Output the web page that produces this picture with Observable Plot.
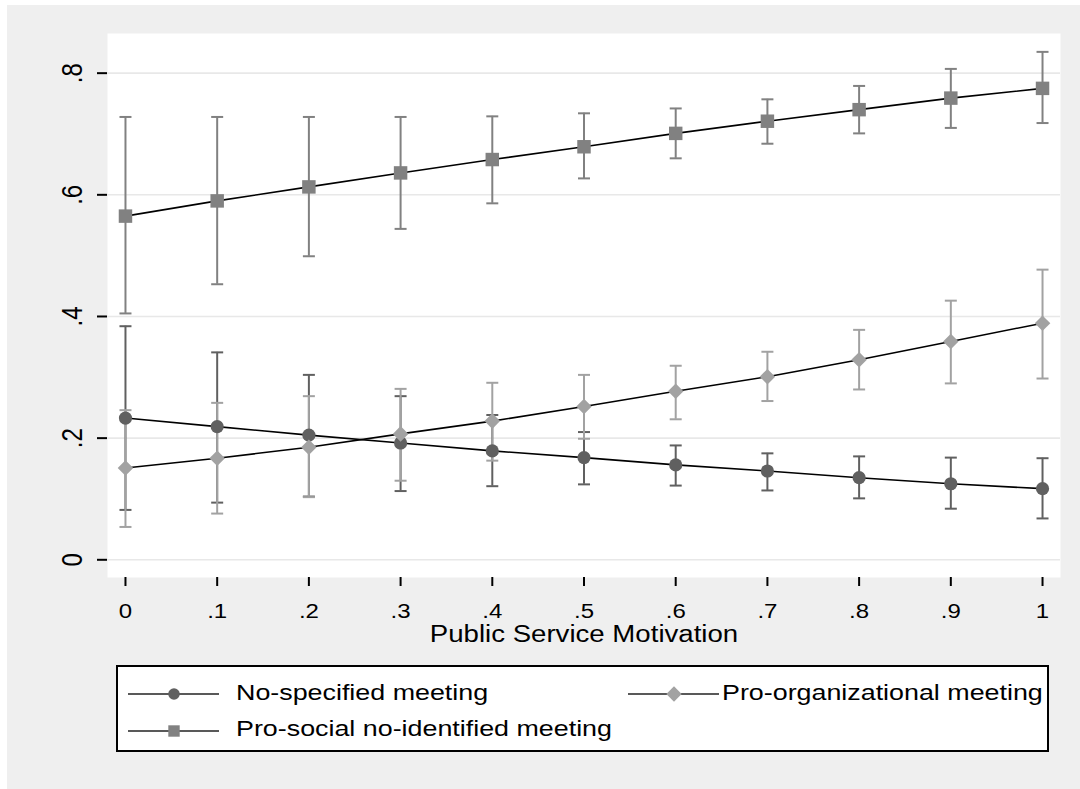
<!DOCTYPE html>
<html>
<head>
<meta charset="utf-8">
<script src="https://cdn.jsdelivr.net/npm/d3@7"></script>
<script src="https://cdn.jsdelivr.net/npm/@observablehq/plot@0.6"></script>
<style>
  html, body { margin: 0; padding: 0; background: #fff; }
  #page { position: absolute; left: 7px; top: 5px; width: 1073px; height: 784px; background: #efefef; }
  #chart { position: absolute; left: 0; top: 0; }
  #legend { position: absolute; left: 116px; top: 665px; width: 929px; height: 83px; border: 2px solid #000; background: #fff; }
  #legend svg { display: block; }
</style>
</head>
<body>
<div id="page"></div>
<div id="chart"></div>
<div id="legend"></div>
<script>
// Predicted probabilities by Public Service Motivation, with 95% confidence intervals
const psm = [0, 0.1, 0.2, 0.3, 0.4, 0.5, 0.6, 0.7, 0.8, 0.9, 1];

const seriesNames = ["No-specified meeting", "Pro-organizational meeting", "Pro-social no-identified meeting"];
const seriesColors = ["#606060", "#a2a2a2", "#818181"];
const seriesSymbols = ["circle", "diamond2", "square"];

const noSpecEst = [0.233, 0.219, 0.205, 0.192, 0.179, 0.168, 0.156, 0.146, 0.135, 0.125, 0.117];
const noSpecLo  = [0.082, 0.094, 0.104, 0.113, 0.121, 0.124, 0.122, 0.114, 0.101, 0.084, 0.068];
const noSpecHi  = [0.384, 0.341, 0.304, 0.269, 0.238, 0.210, 0.188, 0.175, 0.170, 0.168, 0.167];

const proOrgEst = [0.151, 0.167, 0.185, 0.207, 0.228, 0.252, 0.277, 0.301, 0.329, 0.359, 0.389];
const proOrgLo  = [0.054, 0.076, 0.103, 0.130, 0.163, 0.199, 0.231, 0.261, 0.280, 0.290, 0.298];
const proOrgHi  = [0.246, 0.258, 0.269, 0.281, 0.291, 0.304, 0.319, 0.342, 0.378, 0.426, 0.477];

const proSocEst = [0.565, 0.590, 0.613, 0.636, 0.658, 0.679, 0.701, 0.721, 0.740, 0.759, 0.775];
const proSocLo  = [0.405, 0.453, 0.499, 0.544, 0.586, 0.627, 0.660, 0.684, 0.701, 0.710, 0.718];
const proSocHi  = [0.728, 0.728, 0.728, 0.728, 0.729, 0.734, 0.742, 0.757, 0.779, 0.807, 0.835];

const xTicks = [0, 0.1, 0.2, 0.3, 0.4, 0.5, 0.6, 0.7, 0.8, 0.9, 1];
const yTicks = [0, 0.2, 0.4, 0.6, 0.8];
const xTitle = "Public Service Motivation";

// long table: one row per series and PSM value
const estimates = [noSpecEst, proOrgEst, proSocEst];
const lows = [noSpecLo, proOrgLo, proSocLo];
const highs = [noSpecHi, proOrgHi, proSocHi];
const rows = seriesNames.flatMap((name, s) =>
  psm.map((x, i) => ({series: name, x, est: estimates[s][i], lo: lows[s][i], hi: highs[s][i]}))
);

// Stata-style tick labels: ".2" rather than "0.2"
const fmt = d => d === 0 ? "0" : d === 1 ? "1" : d3.format(".1f")(d).replace(/^0/, "");

// short horizontal bar used as the cap of an error bar
const capSymbol = {
  draw(context, size) {
    const w = Math.sqrt(size / Math.PI);
    context.moveTo(-w, 0);
    context.lineTo(w, 0);
  }
};

const colorOf = Object.fromEntries(seriesNames.map((n, i) => [n, seriesColors[i]]));
const symbolOf = Object.fromEntries(seriesNames.map((n, i) => [n, seriesSymbols[i]]));
const markerR = {circle: 6.6, diamond2: 7.0, square: 7.6};

const seriesMarks = seriesNames.flatMap(name => {
  const data = rows.filter(r => r.series === name);
  const c = colorOf[name];
  return [
    Plot.ruleX(data, {x: "x", y1: "lo", y2: "hi", stroke: c, strokeWidth: 2}),
    Plot.dot(data, {x: "x", y: "lo", symbol: capSymbol, r: 6, stroke: c, strokeWidth: 2, fill: "none"}),
    Plot.dot(data, {x: "x", y: "hi", symbol: capSymbol, r: 6, stroke: c, strokeWidth: 2, fill: "none"})
  ];
});

const lineMarks = seriesNames.map(name =>
  Plot.line(rows.filter(r => r.series === name), {x: "x", y: "est", stroke: "#000", strokeWidth: 1.6})
);

const dotMarks = seriesNames.map(name => {
  const sym = symbolOf[name];
  return Plot.dot(rows.filter(r => r.series === name), {
    x: "x", y: "est", symbol: sym, r: markerR[sym], fill: colorOf[name], stroke: "none"
  });
});

const chart = Plot.plot({
  width: 1080,
  height: 660,
  marginLeft: 107,
  marginRight: 20,
  marginTop: 33,
  marginBottom: 83,
  style: {background: "transparent", fontFamily: "'Liberation Sans', Arial, sans-serif", color: "#000"},
  x: {domain: [-0.0196, 1.0196]},
  y: {domain: [-0.0291, 0.8652]},
  marks: [
    Plot.frame({fill: "#fff", stroke: "none"}),
    Plot.gridY(yTicks, {stroke: "#e8e8e8", strokeOpacity: 1, strokeWidth: 1.6}),
    ...seriesMarks,
    ...lineMarks,
    ...dotMarks,
    Plot.axisX(xTicks, {tickSize: 9, tickPadding: 17, fontSize: 20, tickFormat: fmt, label: null, line: true, strokeWidth: 2, stroke: "#000"}),
    Plot.axisY(yTicks, {tickSize: 10, tickFormat: () => "", label: null, line: true, strokeWidth: 2, stroke: "#000"}),
    Plot.text(yTicks, {
      y: d => d, text: fmt, frameAnchor: "left", dx: -35, rotate: -90,
      textAnchor: "middle", lineAnchor: "middle", fontSize: 24, fill: "#000"
    }),
    Plot.text([xTitle], {
      text: d => d, frameAnchor: "bottom", dy: 57,
      textAnchor: "middle", lineAnchor: "middle", fontSize: 23, fill: "#000"
    })
  ]
});
document.getElementById("chart").appendChild(chart);

// legend box below the plot
const legendSvg = d3.select("#legend").append("svg")
  .attr("width", 929).attr("height", 83)
  .style("font-family", "'Liberation Sans', Arial, sans-serif");
const legendPos = [[10, 27, 33], [510, 27, 33], [10, 64, 69]];
const legendSymbol = {circle: d3.symbolCircle, diamond2: d3.symbolDiamond2, square: d3.symbolSquare};
const legendSize = {circle: 105, diamond2: 150, square: 130};
seriesNames.forEach((name, i) => {
  const [x0, ly, by] = legendPos[i];
  const g = legendSvg.append("g");
  g.append("line").attr("x1", x0).attr("x2", x0 + 91).attr("y1", ly).attr("y2", ly)
    .attr("stroke", "#222").attr("stroke-width", 1.6);
  g.append("path")
    .attr("d", d3.symbol(legendSymbol[seriesSymbols[i]], legendSize[seriesSymbols[i]])())
    .attr("transform", `translate(${x0 + 46},${ly})`)
    .attr("fill", seriesColors[i]);
  g.append("text").attr("x", x0 + (i === 1 ? 94 : 108)).attr("y", by)
    .attr("font-size", 22).attr("fill", "#000").text(name);
});

// the original typeface renders wider than Arial: stretch labels horizontally
function widen(root, factor) {
  root.querySelectorAll("text").forEach(t => {
    const own = t.getAttribute("transform") || "";
    const tr = own + (t.parentNode.getAttribute("transform") || "");
    if (tr.includes("rotate")) {
      // upright labels: the page's horizontal is the glyphs' vertical
      t.setAttribute("transform", own + ` scale(1,${factor})`);
      return;
    }
    const len = t.getComputedTextLength();
    if (len > 0) {
      t.setAttribute("textLength", len * factor);
      t.setAttribute("lengthAdjust", "spacingAndGlyphs");
    }
  });
}
widen(chart, 1.2);
widen(legendSvg.node(), 1.22);
</script>
</body>
</html>
